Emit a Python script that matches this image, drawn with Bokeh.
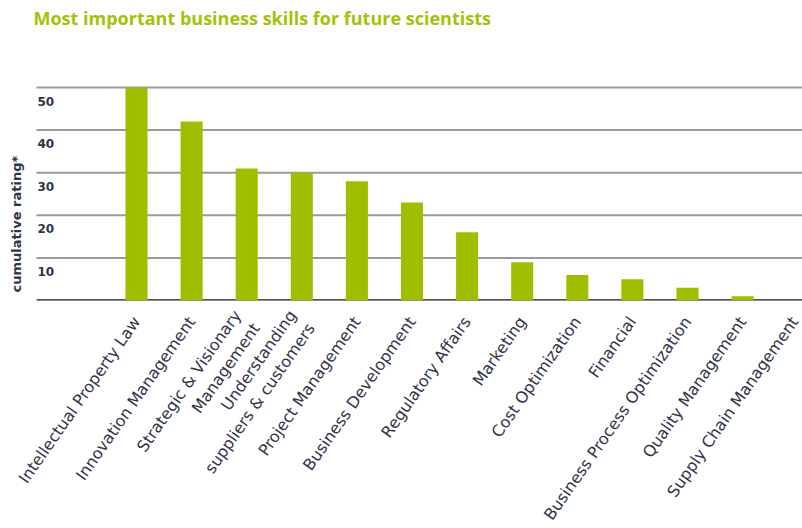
import math
from bokeh.plotting import figure
from bokeh.models import Range1d, FixedTicker
from bokeh.core.properties import value
from bokeh.embed import file_html
from bokeh.resources import INLINE

title_text = "Most important business skills for future scientists"
y_title = "cumulative rating*"
skills = [
    "Intellectual Property Law",
    "Innovation Management",
    "Strategic & Visionary\nManagement",
    "Understanding\nsuppliers & customers",
    "Project Management",
    "Business Development",
    "Regulatory Affairs",
    "Marketing",
    "Cost Optimization",
    "Financial",
    "Business Process Optimization",
    "Quality Management",
    "Supply Chain Management",
]
ratings = [50, 42, 31, 30, 28, 23, 16, 9, 6, 5, 3, 1, 0]
y_ticks = [10, 20, 30, 40, 50]
y_tick_labels = ["10", "20", "30", "40", "50"]

GREEN = "#a0bd00"
TEXT = "#33334a"

xs = list(range(len(skills)))
PX = 55.1          # pixels per category
PY = 4.26          # pixels per rating unit
x_start, x_end = -2.323, 12.087
grid_x0 = -1.815
y_top = 300 / PY

p = figure(frame_width=794, frame_height=300, output_backend="svg", toolbar_location=None,
           x_range=Range1d(x_start, x_end), y_range=Range1d(0, y_top),
           min_border_left=8, min_border_right=0, min_border_top=0,
           min_border_bottom=0)
p.outline_line_color = None
p.xgrid.visible = False
p.ygrid.visible = False
p.yaxis.visible = False

# title
p.text(x=[x_start + 25 / PX], y=[y_top - 17 / PY], text=[title_text],
       text_align="left", text_baseline="middle", text_font=value("Open Sans"),
       text_font_size="18px", text_font_style="bold", text_color="#a4c20a")

# gridlines
p.segment(x0=[grid_x0] * len(y_ticks), x1=[x_end] * len(y_ticks), y0=y_ticks, y1=y_ticks,
          line_color="#9a9a9a", line_width=2)
# baseline
p.segment(x0=[grid_x0], x1=[x_end], y0=[0], y1=[0], line_color="#1a1a1a", line_width=2.5)

p.vbar(x=xs, top=ratings, width=0.4, bottom=0, fill_color=GREEN, line_color=None)

# y tick labels
p.text(x=[grid_x0] * len(y_ticks), y=y_ticks, text=y_tick_labels, x_offset=1, y_offset=9,
       text_baseline="top", text_align="left", text_font=value("DejaVu Sans"),
       text_font_size="12px", text_font_style="bold", text_color=TEXT)
# y title
p.text(x=[x_start + 8 / PX], y=[1.9], text=[y_title], angle=math.pi / 2,
       text_align="left", text_baseline="middle", text_font=value("DejaVu Sans"),
       text_font_size="13px", text_font_style="bold", text_color=TEXT)

ax = p.xaxis[0]
ax.ticker = FixedTicker(ticks=xs)
ax.major_label_overrides = {i: s for i, s in zip(xs, skills)}
ax.major_label_orientation = math.radians(55)
ax.axis_line_color = None
ax.major_tick_line_color = None
ax.minor_tick_line_color = None
ax.major_label_text_font = "DejaVu Sans"
ax.major_label_text_font_size = "16px"
ax.major_label_text_color = TEXT
ax.major_label_text_baseline = "bottom"
ax.major_label_standoff = 12

open("out.html", "w").write(file_html(p, INLINE))
